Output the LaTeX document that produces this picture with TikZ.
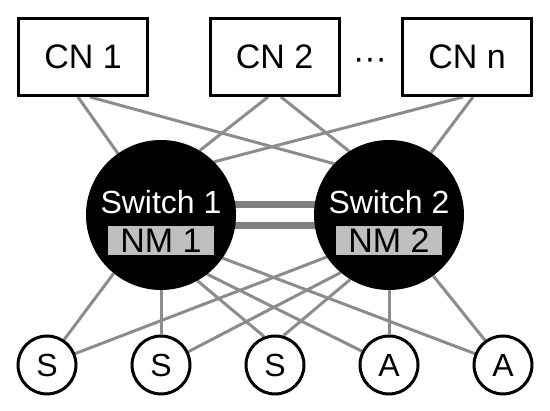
\documentclass[tikz,border=0pt]{standalone}
\usepackage{fontspec}
\setmainfont{Liberation Sans}
\usetikzlibrary{positioning,backgrounds}

\definecolor{linkgray}{gray}{0.55}
\definecolor{trunkgray}{gray}{0.5}
\definecolor{nmgray}{gray}{0.75}

\begin{document}
\begin{tikzpicture}[
  x=1pt, y=1pt, on grid,
  cn/.style={draw,line width=3pt,minimum width=129pt,minimum height=77pt,inner sep=0pt,fill=white,font=\fontsize{34}{36}\selectfont},
  sw/.style={circle,fill=black,minimum size=150pt,inner sep=0pt},
  swtext/.style={text=white,inner sep=0pt,font=\fontsize{32}{34}\selectfont},
  nm/.style={fill=nmgray,minimum width=106pt,minimum height=29pt,inner sep=0pt,font=\fontsize{34}{34}\selectfont},
  dev/.style={circle,draw,line width=3pt,minimum size=58pt,inner sep=0pt,fill=white,font=\fontsize{32}{34}\selectfont},
  link/.style={draw=linkgray,line width=3pt},
  trunk/.style={draw=trunkgray,line width=6.5pt}
]
  \useasboundingbox (0,0) rectangle (550,-411);

  \node[cn] (cn1) at (83,-57) {CN 1};
  \node[cn,right=191.5pt of cn1] (cn2) {CN 2};
  \node[cn,right=192.5pt of cn2] (cnn) {CN n};
  \node[anchor=base,inner sep=0pt,font=\fontsize{34}{36}\selectfont] (dots) at (370,-70) {···};

  \node[sw] (sw1) at (161,-215) {};
  \node[sw,right=228pt of sw1] (sw2) {};
  \node[swtext] (sw1txt) at ([yshift=13pt]sw1.center) {Switch 1};
  \node[swtext] (sw2txt) at ([yshift=13pt]sw2.center) {Switch 2};
  \node[nm] (nm1) at ([yshift=-25.5pt]sw1.center) {NM 1};
  \node[nm] (nm2) at ([yshift=-25.5pt]sw2.center) {NM 2};

  \node[dev] (s1) at (47,-365) {S};
  \node[dev,right=114pt of s1] (s2) {S};
  \node[dev,right=114pt of s2] (s3) {S};
  \node[dev,right=114pt of s3] (a1) {A};
  \node[dev,right=114pt of a1] (a2) {A};

  \begin{scope}[on background layer]
    % compute nodes up to both switches
    \draw[link] ([xshift=-5pt]cn1.south) -- (sw1.125);
    \draw[link] ([xshift=7pt]cn1.south) -- (sw2.137);
    \draw[link] ([xshift=-6.5pt]cn2.south) -- (sw1.59);
    \draw[link] ([xshift=6.5pt]cn2.south) -- (sw2.122);
    \draw[link] ([xshift=-4pt]cnn.south) -- (sw1.45);
    \draw[link] ([xshift=6pt]cnn.south) -- (sw2.56);

    % bottom row down to both switches
    \draw[link] (s1.56) -- (sw1.231);
    \draw[link] (s1.22) -- (sw2.214);
    \draw[link] (s2.north) -- (sw1.south);
    \draw[link] (s2.26) -- (sw2.230);
    \draw[link] (s3.111) -- (sw1.299);
    \draw[link] (s3.74) -- (sw2.239);
    \draw[link] (a1.north) -- (sw2.south);
    \draw[link] (a1.153) -- (sw1.308);
    \draw[link] (a2.158) -- (sw1.325);
    \draw[link] (a2.126) -- (sw2.306);

    \draw[trunk] (sw1.8) -- (sw2.172);
    \draw[trunk] (sw1.-8) -- (sw2.-172);
  \end{scope}
\end{tikzpicture}
\end{document}
